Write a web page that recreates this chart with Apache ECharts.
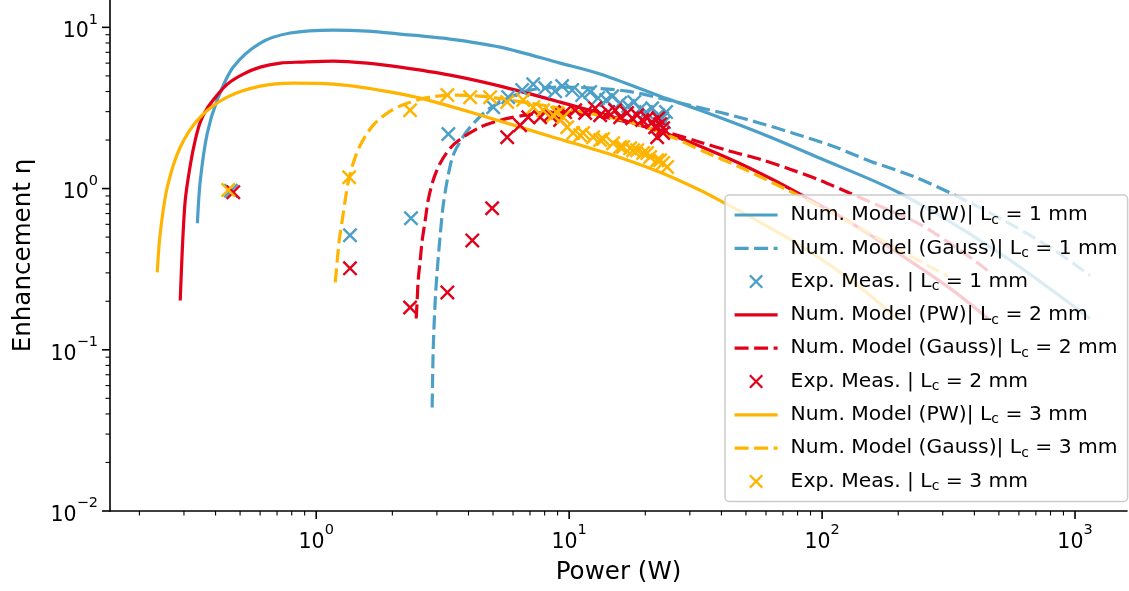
<!DOCTYPE html>
<html>
<head>
<meta charset="utf-8">
<script src="https://cdn.jsdelivr.net/npm/echarts@6/dist/echarts.min.js"></script>
<style>
  html, body { margin: 0; padding: 0; background: #fff; }
  #chart { width: 1129px; height: 591px; }
</style>
</head>
<body>
<div id="chart"></div>
<script>
// Enhancement η versus pump power, log-log. Each point is [power (W), η].

// L_c = 1 mm
const modelPW1 = [[0.339,0.609],[0.348,1.12],[0.371,2.21],[0.406,3.54],[0.470,5.67],[0.601,7.99],[0.789,9.22],[1.167,9.62],[1.591,9.48],[2.148,9.09],[3.385,8.46],[5.338,7.54],[9.213,6.00],[13.26,5.13],[22.89,3.74],[32.95,3.06],[56.88,2.21],[98.2,1.54],[203.4,0.935],[505,0.396],[1146,0.156]];
const modelGauss1 = [[2.874,0.0439],[2.90,0.099],[2.954,0.202],[3.009,0.311],[3.091,0.513],[3.177,0.788],[3.325,1.209],[3.479,1.61],[3.776,2.053],[4.062,2.403],[4.742,3.064],[5.846,3.691],[7.013,4.08],[9.21,4.26],[12.44,4.20],[16.95,4.02],[22.89,3.64],[30.9,3.245],[42.1,2.894],[56.9,2.545],[76.8,2.206],[110.5,1.830],[154.9,1.479],[228.9,1.192],[329.5,0.922],[505,0.654],[796.6,0.432],[1146.8,0.289]];
const measured1 = [[0.46,0.97],[1.36,0.513],[2.37,0.654],[3.33,2.18],[5.01,3.20],[5.74,3.69],[6.52,4.08],[7.21,4.44],[8.04,4.20],[8.80,4.02],[9.38,4.32],[10.28,4.08],[11.26,3.80],[12.11,3.97],[13.02,3.64],[14.00,3.54],[14.79,3.74],[15.91,3.39],[17.11,3.25],[18.07,3.44],[19.09,3.11],[20.15,2.98],[21.29,3.15],[22.48,2.85],[23.32,2.73],[24.17,2.98],[23.74,2.58]];

// L_c = 2 mm
const modelPW2 = [[0.290,0.202],[0.2954,0.414],[0.3035,0.846],[0.3177,1.395],[0.3324,1.995],[0.3479,2.581],[0.3709,3.153],[0.4062,3.798],[0.4448,4.444],[0.5145,5.128],[0.6007,5.668],[0.7209,6.001],[0.8647,6.088],[1.167,6.176],[1.591,6.001],[2.148,5.668],[3.385,5.055],[5.338,4.319],[9.213,3.436],[16.95,2.618],[26.73,2.083],[32.95,1.830],[46.13,1.457],[62.3,1.159],[81.85,0.922],[129.0,0.6175],[203.4,0.3907],[320.6,0.2403],[453.1,0.1564]];
const modelGauss2 = [[2.485,0.1564],[2.507,0.2024],[2.530,0.2694],[2.577,0.3586],[2.624,0.4774],[2.697,0.6355],[2.771,0.8459],[2.900,1.126],[3.091,1.436],[3.385,1.780],[3.709,2.024],[4.448,2.403],[5.338,2.656],[6.70,2.853],[8.41,2.978],[11.05,2.936],[14.52,2.733],[19.09,2.473],[25.07,2.206],[32.95,1.940],[43.28,1.705],[56.88,1.521],[74.7,1.318],[98.2,1.126],[129.0,0.935],[169.5,0.7765],[244.0,0.600],[320.6,0.457],[410.0,0.348],[461,0.302]];
const measured2 = [[0.47,0.95],[1.36,0.32],[2.35,0.183],[3.30,0.227],[4.14,0.477],[4.96,0.755],[5.69,2.08],[6.40,2.47],[6.89,2.77],[7.68,2.77],[8.41,2.85],[9.21,2.66],[9.64,2.98],[10.56,3.06],[11.57,2.94],[12.67,3.15],[13.26,2.85],[14.26,2.98],[15.20,3.06],[15.91,2.77],[16.95,2.94],[17.75,2.73],[18.57,2.85],[19.44,2.66],[20.34,2.73],[21.29,2.58],[21.88,2.40],[22.48,2.73],[22.89,2.51],[23.53,2.37],[22.28,2.08],[23.53,2.21]];

// L_c = 3 mm
const modelPW3 = [[0.2352,0.302],[0.2417,0.528],[0.2577,1.019],[0.290,1.805],[0.3479,2.773],[0.4448,3.691],[0.6007,4.319],[0.811,4.509],[1.167,4.444],[1.591,4.198],[2.577,3.638],[4.742,2.773],[8.645,2.083],[14.52,1.633],[22.89,1.262],[32.95,0.976],[40.62,0.822],[56.88,0.6175],[81.85,0.4445],[129.0,0.2733],[197.9,0.1564]];
const modelGauss3 = [[1.189,0.2618],[1.211,0.3586],[1.233,0.4774],[1.267,0.6355],[1.302,0.8459],[1.338,1.094],[1.400,1.436],[1.493,1.857],[1.680,2.473],[1.961,3.020],[2.289,3.387],[2.822,3.691],[3.479,3.798],[4.448,3.744],[5.846,3.535],[9.21,3.153],[16.95,2.618],[25.07,2.113],[33.86,1.705],[47.42,1.356],[74.7,0.962],[117.8,0.6634],[203.4,0.4137],[314.8,0.2852]];
const measured3 = [[0.449,0.98],[1.35,1.175],[2.35,3.06],[3.30,3.80],[4.06,3.69],[4.87,3.69],[5.69,3.44],[6.58,3.54],[7.21,3.20],[7.89,3.06],[8.65,2.85],[8.97,2.94],[9.47,2.77],[9.82,2.40],[10.37,2.21],[11.05,2.14],[11.36,2.21],[12.44,2.08],[13.26,2.00],[13.63,2.03],[14.93,1.91],[15.91,1.81],[16.35,1.81],[17.42,1.78],[17.91,1.73],[18.57,1.73],[19.61,1.66],[20.34,1.66],[20.9,1.57],[22.28,1.50],[22.89,1.50],[23.53,1.44],[24.39,1.36]];

// Series labels (L_c gets a subscript c when drawn)
const seriesNames = [
  'Num. Model (PW)| L_c = 1 mm', 'Num. Model (Gauss)| L_c = 1 mm', 'Exp. Meas. | L_c = 1 mm',
  'Num. Model (PW)| L_c = 2 mm', 'Num. Model (Gauss)| L_c = 2 mm', 'Exp. Meas. | L_c = 2 mm',
  'Num. Model (PW)| L_c = 3 mm', 'Num. Model (Gauss)| L_c = 3 mm', 'Exp. Meas. | L_c = 3 mm'
];

// Axis ranges and tick positions
const X_MIN = 0.153, X_MAX = 1605;
const Y_MIN = 0.01, Y_MAX = 14.78;
const xMajorTicks = [1, 10, 100, 1000];
const xMinorTicks = [0.2,0.3,0.4,0.5,0.6,0.7,0.8,0.9, 2,3,4,5,6,7,8,9, 20,30,40,50,60,70,80,90, 200,300,400,500,600,700,800,900];
const yMajorTicks = [0.01, 0.1, 1, 10];
const yMinorTicks = [0.02,0.03,0.04,0.05,0.06,0.07,0.08,0.09, 0.2,0.3,0.4,0.5,0.6,0.7,0.8,0.9, 2,3,4,5,6,7,8,9];

const FONT = 'DejaVu Sans';
const BLUE = '#4ca0c8', RED = '#e2001a', YELLOW = '#ffb400';
const LINE_W = 3.2;
const DASH = [14, 5.5];
const CROSS = 'path://M0,1.6 L1.6,0 L14,12.4 L12.4,14 Z M12.4,0 L14,1.6 L1.6,14 L0,12.4 Z';

function powLabel(v) {
  const e = Math.log10(v);
  const r = Math.round(e);
  if (Math.abs(e - r) > 1e-6) return '';
  return '{b|10}{s|' + (r < 0 ? '\u2212' + (-r) : String(r)) + '}';
}

const powRich = {
  b: { fontFamily: FONT, fontSize: 20.5, color: '#000', lineHeight: 30, verticalAlign: 'bottom' },
  s: { fontFamily: FONT, fontSize: 14.5, color: '#000', lineHeight: 13, verticalAlign: 'top' }
};

function modelLine(name, data, color, dashed) {
  return {
    name, type: 'line', data, smooth: 0.3, symbol: 'none', showSymbol: false,
    lineStyle: { color, width: LINE_W, type: dashed ? DASH : 'solid', cap: 'butt' },
    itemStyle: { color }, emphasis: { disabled: true }, z: 2
  };
}
function measuredPoints(name, data, color) {
  return {
    name, type: 'scatter', data, symbol: CROSS, symbolSize: 15, symbolKeepAspect: true,
    itemStyle: { color, opacity: 1 }, emphasis: { disabled: true }, z: 3
  };
}
function tickSeries(values, onX, len, width) {
  return {
    type: 'custom', silent: true, clip: false, z: 5,
    data: values.map(v => onX ? [v, Y_MIN] : [X_MIN, v]),
    renderItem: function (params, api) {
      const p = api.coord([api.value(0), api.value(1)]);
      const shape = onX
        ? { x1: p[0], y1: p[1], x2: p[0], y2: p[1] + len }
        : { x1: p[0], y1: p[1], x2: p[0] - len, y2: p[1] };
      return { type: 'line', shape, style: { stroke: '#000', lineWidth: width } };
    }
  };
}

// Legend entries: line entries show only the stroke, no marker dot
const legendItems = seriesNames.map(function (name) {
  if (name.indexOf('Model') < 0) return { name: name };
  return {
    name: name,
    itemStyle: { opacity: 0 },
    lineStyle: { width: LINE_W, type: name.indexOf('Gauss') >= 0 ? DASH : 'solid' }
  };
});

const chart = echarts.init(document.getElementById('chart'), null, { renderer: 'canvas' });

chart.setOption({
  animation: false,
  backgroundColor: '#fff',
  textStyle: { fontFamily: FONT },
  grid: { left: 110, right: 2, top: 0, bottom: 80, containLabel: false },
  xAxis: {
    type: 'log', logBase: 10, min: X_MIN, max: X_MAX,
    name: 'Power (W)', nameLocation: 'middle', nameGap: 49,
    nameTextStyle: { fontFamily: FONT, fontSize: 24.6, color: '#000' },
    axisLine: { show: true, lineStyle: { color: '#000', width: 1.6 } },
    axisTick: { show: false }, splitLine: { show: false }, minorTick: { show: false },
    axisLabel: { formatter: powLabel, rich: powRich, margin: 12, showMinLabel: false, showMaxLabel: false }
  },
  yAxis: {
    type: 'log', logBase: 10, min: Y_MIN, max: Y_MAX,
    name: 'Enhancement η', nameLocation: 'middle', nameGap: 74,
    nameTextStyle: { fontFamily: FONT, fontSize: 24.6, color: '#000' },
    axisLine: { show: true, lineStyle: { color: '#000', width: 1.6 } },
    axisTick: { show: false }, splitLine: { show: false }, minorTick: { show: false },
    axisLabel: { formatter: powLabel, rich: powRich, margin: 12, showMaxLabel: false }
  },
  legend: {
    data: legendItems, orient: 'vertical', left: 725, top: 195,
    padding: [10, 10, 8, 8], itemWidth: 43, itemHeight: 14, itemGap: 11.3,
    backgroundColor: 'rgba(255,255,255,0.8)', borderColor: '#cccccc', borderWidth: 1.5, borderRadius: 4,
    selectedMode: false,
    lineStyle: { width: LINE_W },
    formatter: function (name) {
      const parts = name.split('L_c');
      return '{h|' + parts[0] + 'L}{sub|c}{t|' + parts[1] + '}';
    },
    textStyle: {
      fontFamily: FONT, fontSize: 20.3, color: '#000',
      rich: {
        h: { fontFamily: FONT, fontSize: 20.3, color: '#000', lineHeight: 24, padding: [0, 0, 0, 8] },
        t: { fontFamily: FONT, fontSize: 20.3, color: '#000', lineHeight: 24 },
        sub: { fontFamily: FONT, fontSize: 14, color: '#000', lineHeight: 12, verticalAlign: 'bottom' }
      }
    }
  },
  series: [
    modelLine(seriesNames[0], modelPW1, BLUE, false),
    modelLine(seriesNames[1], modelGauss1, BLUE, true),
    measuredPoints(seriesNames[2], measured1, BLUE),
    modelLine(seriesNames[3], modelPW2, RED, false),
    modelLine(seriesNames[4], modelGauss2, RED, true),
    measuredPoints(seriesNames[5], measured2, RED),
    modelLine(seriesNames[6], modelPW3, YELLOW, false),
    modelLine(seriesNames[7], modelGauss3, YELLOW, true),
    measuredPoints(seriesNames[8], measured3, YELLOW),
    tickSeries(xMajorTicks, true, 8, 1.6),
    tickSeries(xMinorTicks, true, 4.5, 1.1),
    tickSeries(yMajorTicks, false, 8, 1.6),
    tickSeries(yMinorTicks, false, 4.5, 1.1)
  ]
});
</script>
</body>
</html>
